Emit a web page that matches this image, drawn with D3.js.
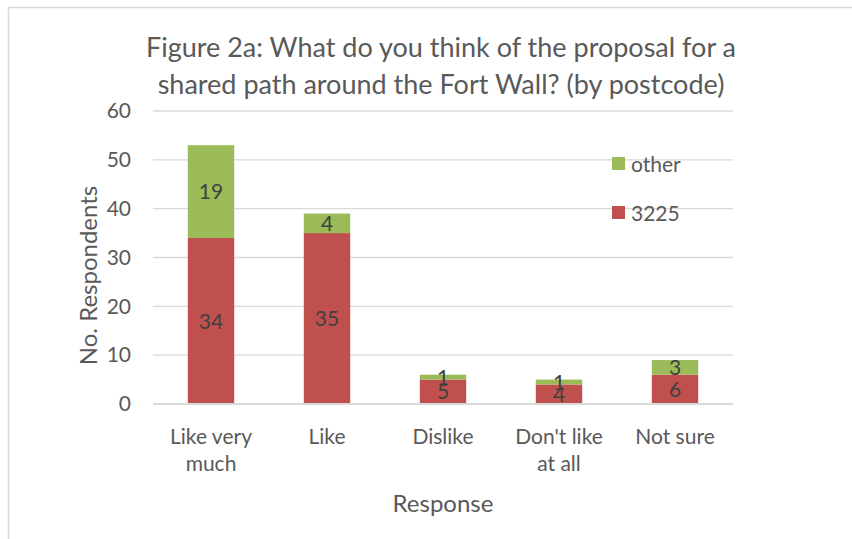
<!DOCTYPE html>
<html>
<head>
<meta charset="utf-8">
<script src="https://cdn.jsdelivr.net/npm/d3@7"></script>
<style>
  html, body { margin: 0; padding: 0; background: #fff; }
  svg { display: block; font-family: Lato, "Open Sans", sans-serif; }
</style>
</head>
<body>
<svg id="chart" width="852" height="539"></svg>
<script>
// Survey responses by postcode
const categories = [["Like very", "much"], ["Like"], ["Dislike"], ["Don't like", "at all"], ["Not sure"]];
const seriesNames = ["3225", "other"];
const values3225 = [34, 35, 5, 4, 6];
const valuesOther = [19, 4, 1, 1, 3];
const yTicks = [0, 10, 20, 30, 40, 50, 60];
const colors = { "3225": "#C0504D", "other": "#9BBB59" };

const svg = d3.select("#chart");
const plot = { left: 153, right: 733, top: 111, bottom: 404 };
const textColor = "#595959";
const baseSize = "21px";

// outer frame
svg.append("rect")
  .attr("x", 8.5).attr("y", 7.5)
  .attr("width", 900).attr("height", 600)
  .attr("fill", "#fff").attr("stroke", "#D9D9D9").attr("stroke-width", 1.5);

const keys = categories.map((c, i) => i);
const x = d3.scaleBand().domain(keys).range([plot.left, plot.right]).paddingInner(0.6).paddingOuter(0.3);
const y = d3.scaleLinear().domain([0, 60]).range([plot.bottom, plot.top]);

// gridlines
svg.append("g")
  .selectAll("line")
  .data(yTicks.filter(t => t > 0))
  .join("line")
  .attr("x1", plot.left).attr("x2", plot.right)
  .attr("y1", d => y(d)).attr("y2", d => y(d))
  .attr("stroke", "#D9D9D9").attr("stroke-width", 1.3);

// y axis tick labels
const yAxis = d3.axisLeft(y).tickValues(yTicks).tickSize(0).tickPadding(0);
const gy = svg.append("g").attr("transform", `translate(${plot.left - 22},0)`).call(yAxis);
gy.select(".domain").remove();
gy.selectAll("text")
  .attr("fill", textColor)
  .style("font-size", baseSize)
  .style("font-family", "Lato, 'Open Sans', sans-serif");

// stacked bars
const rows = keys.map(i => ({ i, "3225": values3225[i], "other": valuesOther[i] }));
const stacked = d3.stack().keys(seriesNames)(rows);

const layers = svg.append("g").selectAll("g")
  .data(stacked)
  .join("g")
  .attr("fill", d => colors[d.key]);

layers.selectAll("rect")
  .data(d => d)
  .join("rect")
  .attr("x", d => x(d.data.i))
  .attr("width", x.bandwidth())
  .attr("y", d => y(d[1]))
  .attr("height", d => y(d[0]) - y(d[1]));

// zero baseline
svg.append("line")
  .attr("x1", plot.left).attr("x2", plot.right)
  .attr("y1", y(0)).attr("y2", y(0))
  .attr("stroke", "#D9D9D9").attr("stroke-width", 2);

// value labels centred in each segment
layers.selectAll("text")
  .data(d => d)
  .join("text")
  .attr("x", d => x(d.data.i) + x.bandwidth() / 2)
  .attr("y", d => (y(d[0]) + y(d[1])) / 2)
  .attr("dy", "0.36em")
  .attr("text-anchor", "middle")
  .attr("fill", "#404040")
  .style("font-size", baseSize)
  .text(d => d[1] - d[0]);

// category labels
const xLabels = svg.append("g").selectAll("text")
  .data(categories)
  .join("text")
  .attr("x", (d, i) => x(i) + x.bandwidth() / 2)
  .attr("y", 444)
  .attr("text-anchor", "middle")
  .attr("fill", textColor)
  .style("font-size", baseSize);
xLabels.selectAll("tspan")
  .data(d => d)
  .join("tspan")
  .attr("x", function () { return d3.select(this.parentNode).attr("x"); })
  .attr("dy", (d, j) => j === 0 ? 0 : 27)
  .text(d => d);

// axis titles
svg.append("text")
  .attr("x", (plot.left + plot.right) / 2)
  .attr("y", 512)
  .attr("text-anchor", "middle")
  .attr("fill", textColor)
  .style("font-size", "24px")
  .text("Response");

svg.append("text")
  .attr("transform", `translate(97,${(plot.top + plot.bottom) / 2 + 18}) rotate(-90)`)
  .attr("text-anchor", "middle")
  .attr("fill", textColor)
  .style("font-size", "24px")
  .text("No. Respondents");

// title
const title = ["Figure 2a: What do you think of the proposal for a", "shared path around the Fort Wall? (by postcode)"];
svg.append("g").selectAll("text")
  .data(title)
  .join("text")
  .attr("x", 441)
  .attr("y", (d, i) => 57 + i * 37)
  .attr("text-anchor", "middle")
  .attr("fill", textColor)
  .style("font-size", "27px")
  .text(d => d);

// legend
const legendItems = ["other", "3225"];
const lg = svg.append("g").selectAll("g")
  .data(legendItems)
  .join("g")
  .attr("transform", (d, i) => `translate(612,${157 + i * 49})`);
lg.append("rect").attr("width", 13).attr("height", 13).attr("fill", d => colors[d]);
lg.append("text")
  .attr("x", 19).attr("y", 7).attr("dy", "0.36em")
  .attr("fill", textColor)
  .style("font-size", baseSize)
  .text(d => d);
</script>
</body>
</html>
